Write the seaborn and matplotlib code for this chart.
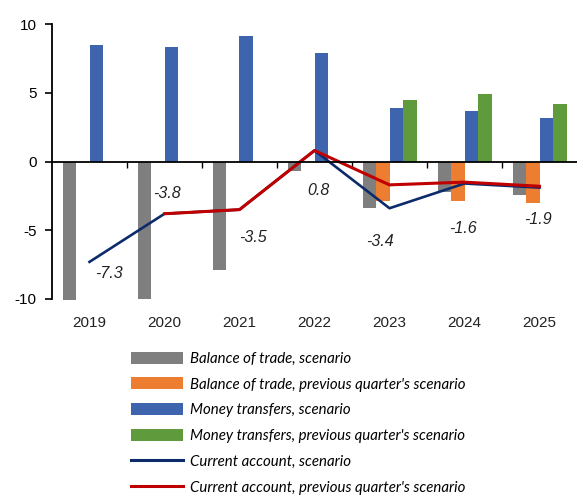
import numpy as np
import pandas as pd
import matplotlib
matplotlib.use("Agg")
import matplotlib.pyplot as plt
import matplotlib.transforms as mtransforms
from matplotlib.patches import Patch
from matplotlib.lines import Line2D
import seaborn as sns

years = ["2019", "2020", "2021", "2022", "2023", "2024", "2025"]
trade_scen = [-10.1, -10.0, -7.9, -0.7, -3.4, -2.2, -2.4]
trade_prev = [np.nan, np.nan, np.nan, np.nan, -2.9, -2.9, -3.0]
transf_scen = [8.5, 8.3, 9.1, 7.9, 3.9, 3.7, 3.2]
transf_prev = [np.nan, np.nan, np.nan, np.nan, 4.5, 4.9, 4.2]
ca_scen = [-7.3, -3.8, -3.5, 0.8, -3.4, -1.6, -1.9]
ca_prev = [np.nan, -3.8, -3.5, 0.8, -1.7, -1.5, -1.8]

series_names = [
    "Balance of trade, scenario",
    "Balance of trade, previous quarter's scenario",
    "Money transfers, scenario",
    "Money transfers, previous quarter's scenario",
    "Current account, scenario",
    "Current account, previous quarter's scenario",
]
colors = ["#7f7f7f", "#ed7d31", "#3d64ad", "#5f9b3d", "#0d2b6b", "#c00000"]

# label offsets in pixels (dx, dy) for the current account labels
label_offsets = [(19, -12), (2, 20), (13, -28), (4, -40), (-10, -33), (-2, -45), (-2, -32)]

bars = pd.DataFrame({
    "year": years * 4,
    "value": trade_scen + trade_prev + transf_scen + transf_prev,
    "series": sum([[s] * len(years) for s in series_names[:4]], []),
})

fig = plt.figure(figsize=(5.77, 4.95), dpi=100)
ax = fig.add_axes([52 / 577, 1 - 299 / 495, 525 / 577, 275 / 495])

sns.barplot(data=bars, x="year", y="value", hue="series", hue_order=series_names[:4],
            palette=colors[:4], width=0.72, gap=0, ax=ax, legend=False,
            saturation=1, clip_on=False, linewidth=0)

xs = np.arange(len(years))
sns.lineplot(x=xs, y=ca_scen, color=colors[4], linewidth=1.9, ax=ax)
sns.lineplot(x=xs, y=ca_prev, color=colors[5], linewidth=2.2, ax=ax)

for i, v in enumerate(ca_scen):
    dx, dy = label_offsets[i]
    ax.annotate(f"{v:.1f}", xy=(i, v), xytext=(dx, dy), textcoords="offset pixels",
                ha="center", va="center", fontsize=11.5, style="italic",
                family="Liberation Sans", color="#222222")

ax.set_xlim(-0.5, len(years) - 0.5)
ax.set_ylim(-10, 10)
ax.set_yticks([-10, -5, 0, 5, 10])
ax.set_yticklabels(["-10", "-5", "0", "5", "10"], family="Liberation Sans", fontsize=11)
ax.set_xticks(xs[:-1] + 0.5)
ax.set_xticklabels([])
ax.tick_params(axis="x", length=4, width=1, direction="out")
ax.tick_params(axis="y", length=5, width=1.2, pad=6)
ax.set_xlabel("")
ax.set_ylabel("")

for s in ["top", "right"]:
    ax.spines[s].set_visible(False)
ax.spines["bottom"].set_position(("data", 0))
ax.spines["bottom"].set_linewidth(1.3)
ax.spines["left"].set_linewidth(1.3)

trans = mtransforms.blended_transform_factory(ax.transData, ax.transAxes)
for i, y in enumerate(years):
    ax.text(i, -0.087, y, transform=trans, ha="center", va="center",
            fontsize=11, family="Liberation Sans", color="#222222")

handles = [Patch(facecolor=c) for c in colors[:4]] + \
          [Line2D([0], [0], color=c, linewidth=2.2) for c in colors[4:]]
fig.legend(handles, series_names, loc="upper left", bbox_to_anchor=(117 / 577, 1 - 338 / 495),
           frameon=False, prop={"family": "Lato", "style": "italic", "size": 10.8},
           handlelength=3.5, handleheight=0.87, labelspacing=0.77, handletextpad=0.45)

fig.savefig("out.png", dpi=100)
